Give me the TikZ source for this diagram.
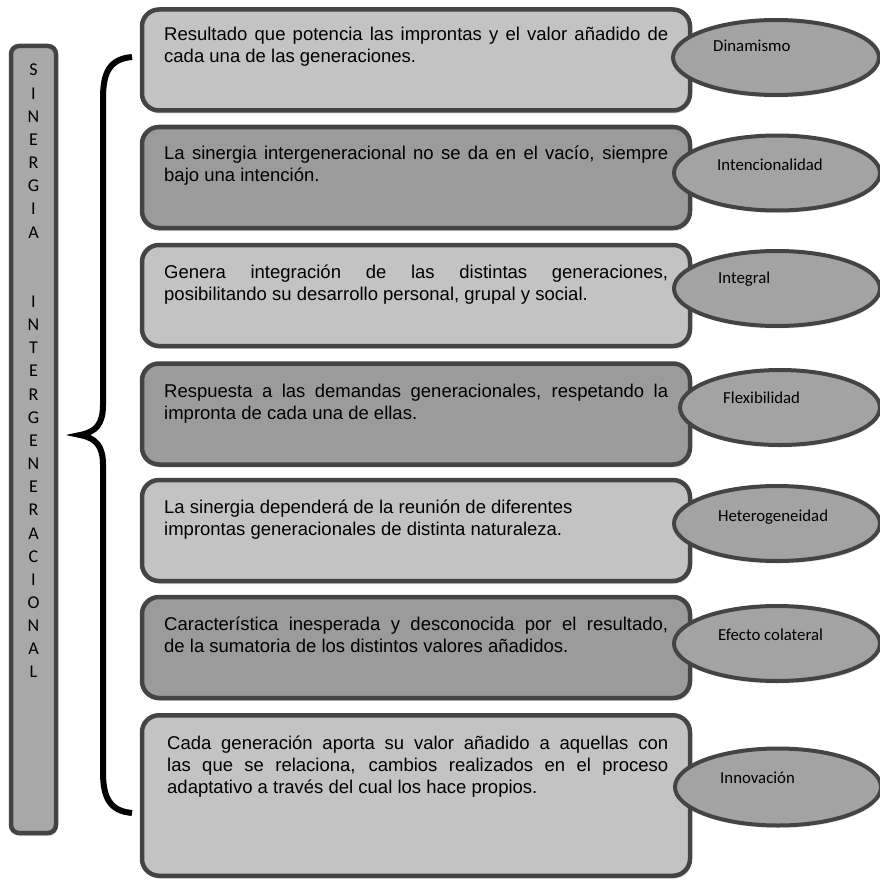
\documentclass[tikz,border=0pt]{standalone}
\usepackage{fontspec}
\setmainfont{Liberation Sans}
\newfontfamily\calibrifont{Carlito}
\usepackage{tikz}
\usetikzlibrary{shapes.geometric,shadows}
\definecolor{boxlight}{HTML}{C3C3C3}
\definecolor{boxdark}{HTML}{9B9B9B}
\definecolor{ovalgray}{HTML}{A3A3A3}
\definecolor{bargray}{HTML}{A8A8A8}
\definecolor{rimgray}{HTML}{444444}

\begin{document}
\begin{tikzpicture}[x=1pt, y=-1pt,
      frame/.style={draw=rimgray,line width=4.5pt,rounded corners=17pt,
        minimum width=548pt,minimum height=101pt,
        drop shadow={shadow xshift=1.5pt,shadow yshift=-3pt,opacity=0.25}},
      lightbox/.style={frame,fill=boxlight},
      darkbox/.style={frame,fill=boxdark},
      trait/.style={ellipse,draw=rimgray,line width=4pt,fill=ovalgray,
        minimum width=206pt,minimum height=75pt,
        drop shadow={shadow xshift=1pt,shadow yshift=-2.5pt,opacity=0.2}},
      traitlabel/.style={anchor=base west,inner sep=0pt,
        font=\calibrifont\fontsize{16.8}{19}\selectfont},
      boxtext/.style={anchor=base west,inner sep=0pt,
        font=\fontsize{18.5}{22}\selectfont}]
      \useasboundingbox (0,0) rectangle (880,880);
      % vertical title bar
      \node[draw=rimgray,line width=4.5pt,rounded corners=8pt,fill=bargray,
        minimum width=45pt,minimum height=787pt,
        drop shadow={shadow xshift=1.5pt,shadow yshift=-3pt,opacity=0.25}]
        at (33.5,439.5) (bar) {};
      \node[anchor=base,inner sep=0pt,font=\calibrifont\fontsize{18}{23.15}\selectfont]
        at (33.5,76) (title) {\parbox[t]{20pt}{\centering
        S\\I\\N\\E\\R\\G\\I\\A\\\mbox{}\\\mbox{}\\I\\N\\T\\E\\R\\G\\E\\N\\E\\R\\A\\C\\I\\O\\N\\A\\L}};
      % brace
      \coordinate (top) at (132,57);
      \coordinate (mid) at (80,435);
      \coordinate (bot) at (132,813);
      \draw[line width=6pt] (top) .. controls (110,59) and (103,72) .. (103,98)
        -- (103,405) .. controls (103,424) and (96,432) .. (mid)
        .. controls (96,438) and (103,446) .. (103,465)
        -- (103,772) .. controls (103,798) and (110,811) .. (bot);
      % boxes
      \node[lightbox] at (416,60) (b1) {};
      \node[darkbox] at (416,177.5) (b2) {};
      \node[lightbox] at (416,295.5) (b3) {};
      \node[darkbox] at (416,414) (b4) {};
      \node[lightbox] at (416,530.5) (b5) {};
      \node[darkbox] at (416,647.5) (b6) {};
      \node[lightbox,minimum height=160.5pt] at (416,795.5) (b7) {};
      \node[boxtext] at (164,41) (t1) {\parbox[t]{504pt}{%
        \makebox[\linewidth][s]{Resultado que potencia las improntas y el valor añadido de}\\
        cada una de las generaciones.}};
      \node[boxtext] at (164,159) (t2) {\parbox[t]{504pt}{%
        \makebox[\linewidth][s]{La sinergia intergeneracional no se da en el vacío, siempre}\\
        bajo una intención.}};
      \node[boxtext] at (164,278) (t3) {\parbox[t]{504pt}{%
        \makebox[\linewidth][s]{Genera integración de las distintas generaciones,}\\
        posibilitando su desarrollo personal, grupal y social.}};
      \node[boxtext] at (164,397) (t4) {\parbox[t]{504pt}{%
        \makebox[\linewidth][s]{Respuesta a las demandas generacionales, respetando la}\\
        impronta de cada una de ellas.}};
      \node[boxtext] at (164,513) (t5) {\parbox[t]{504pt}{%
        La sinergia dependerá de la reunión de diferentes\\
        improntas generacionales de distinta naturaleza.}};
      \node[boxtext] at (164,630) (t6) {\parbox[t]{504pt}{%
        \makebox[\linewidth][s]{Característica inesperada y desconocida por el resultado,}\\
        de la sumatoria de los distintos valores añadidos.}};
      \node[boxtext] at (167,749) (t7) {\parbox[t]{501pt}{%
        \makebox[\linewidth][s]{Cada generación aporta su valor añadido a aquellas con}\\
        \makebox[\linewidth][s]{las que se relaciona, cambios realizados en el proceso}\\
        adaptativo a través del cual los hace propios.}};
      % traits
      \node[trait] at (776,57.5) (e1) {};
      \node[trait] at (777,173) (e2) {};
      \node[trait] at (777,288.5) (e3) {};
      \node[trait,minimum width=200pt] at (780,407.5) (e4) {};
      \node[trait] at (777,523.5) (e5) {};
      \node[trait] at (777,643.5) (e6) {};
      \node[trait,minimum height=77pt] at (778,787) (e7) {};
      \node[traitlabel] at (713,52) (l1) {Dinamismo};
      \node[traitlabel] at (717,170) (l2) {Intencionalidad};
      \node[traitlabel] at (718,283) (l3) {Integral};
      \node[traitlabel] at (723,403) (l4) {Flexibilidad};
      \node[traitlabel] at (718,521) (l5) {Heterogeneidad};
      \node[traitlabel] at (718,640) (l6) {Efecto colateral};
      \node[traitlabel] at (720,783) (l7) {Innovación};
\end{tikzpicture}
\end{document}
